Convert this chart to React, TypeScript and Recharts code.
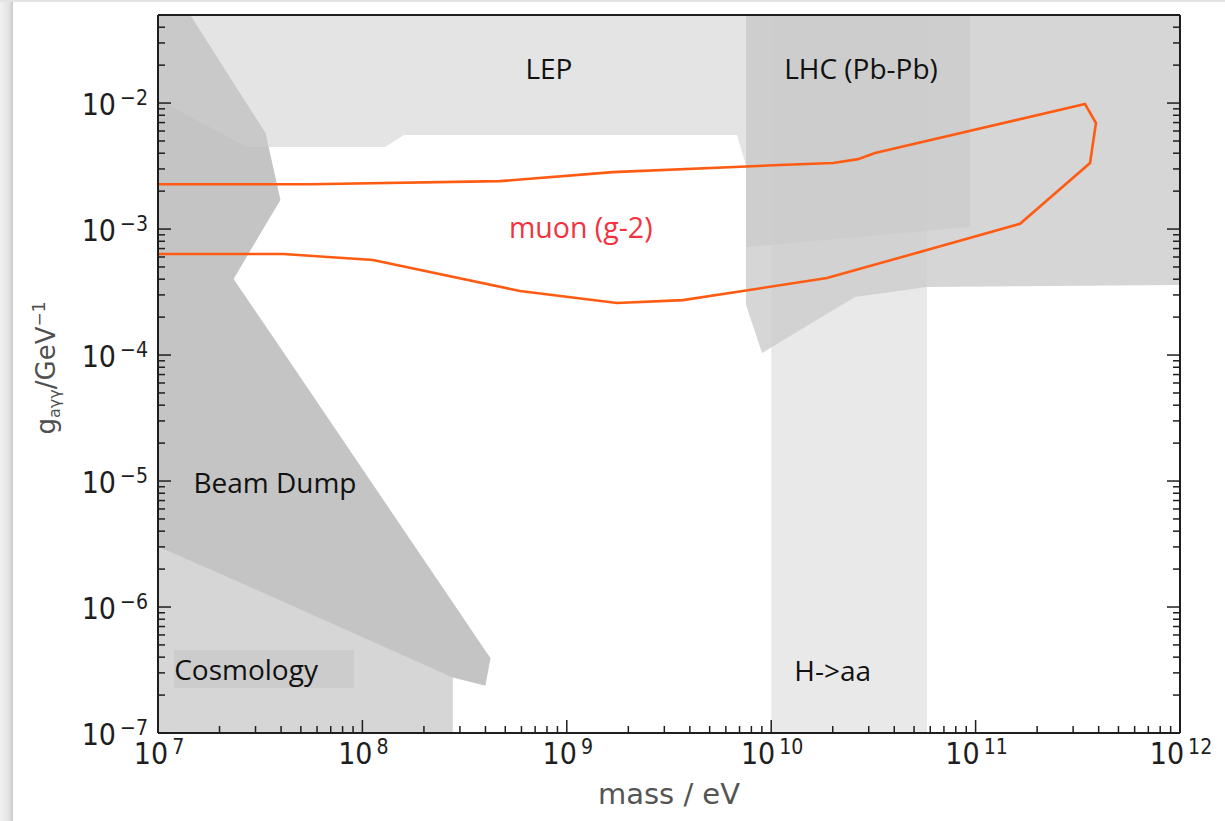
import React from "react";
import {
  ComposedChart,
  Area,
  Line,
  XAxis,
  YAxis,
  ReferenceDot,
  ReferenceArea,
} from "recharts";

/* ------------------------------------------------------------------ */
/*  Data (mass in eV, coupling in GeV^-1)                              */
/* ------------------------------------------------------------------ */

const MASS_DOMAIN = [1e7, 1e12];
const G_DOMAIN = [1e-7, 0.05];

const massDecades = [7, 8, 9, 10, 11, 12];
const gDecades = [-7, -6, -5, -4, -3, -2];
const minorSteps = [2, 3, 4, 5, 6, 7, 8, 9];

// Cosmology
const cosmologyMass = [1e7, 3.95e7, 2.77e8];
const cosmologyLow = [1e-7, 1e-7, 1e-7];
const cosmologyHigh = [3.05e-6, 1.14e-6, 2.78e-7];

// Beam dump, upper lobe
const beamUpperMass = [1e7, 1.43e7, 2.33e7, 2.33e7, 3.34e7, 3.95e7];
const beamUpperLow = [3.05e-6, 2.36e-6, 1.67e-6, 4.01e-4, 1.08e-3, 1.7e-3];
const beamUpperHigh = [0.05, 0.05, 1.44e-2, 1.44e-2, 5.78e-3, 1.7e-3];

// Beam dump, lower tail
const beamLowerMass = [2.2e7, 2.33e7, 3.95e7, 2.77e8, 3.98e8, 4.21e8];
const beamLowerLow = [1.73e-6, 1.67e-6, 1.14e-6, 2.78e-7, 2.4e-7, 3.94e-7];
const beamLowerHigh = [4.56e-4, 4.01e-4, 1.14e-4, 1.07e-6, 4.48e-7, 3.94e-7];

// LEP
const lepMass = [1e7, 2.72e7, 1.29e8, 1.6e8, 6.8e9, 7.53e9];
const lepLow = [1.06e-2, 4.48e-3, 4.48e-3, 5.57e-3, 5.57e-3, 3.22e-3];
const lepHigh = [0.05, 0.05, 0.05, 0.05, 0.05, 0.05];

// Collider (wide band on the right)
const colliderMass = [7.53e9, 9.02e9, 2.57e10, 5.78e10, 1e12];
const colliderLow = [2.49e-4, 1.04e-4, 2.89e-4, 3.47e-4, 3.59e-4];
const colliderHigh = [0.05, 0.05, 0.05, 0.05, 0.05];

// LHC (Pb-Pb)
const lhcMass = [7.53e9, 9.39e10];
const lhcLow = [7.19e-4, 1.04e-3];
const lhcHigh = [0.05, 0.05];

// H->aa
const haaMass = [1e10, 5.78e10];
const haaLow = [1e-7, 1e-7];
const haaHigh = [0.05, 0.05];

// muon (g-2) contour, in drawing order
const muonMass = [
  1e7, 5.54e7, 4.71e8, 1.68e9, 1.1e10, 2.01e10, 2.66e10, 3.22e10, 3.43e11,
  3.88e11, 3.63e11, 1.65e11, 1.875e10, 3.7e9, 1.76e9, 5.9e8, 1.127e8, 4.09e7,
  1e7,
];
const muonG = [
  2.27e-3, 2.27e-3, 2.4e-3, 2.83e-3, 3.22e-3, 3.34e-3, 3.59e-3, 4.01e-3,
  9.82e-3, 6.94e-3, 3.34e-3, 1.1e-3, 4.08e-4, 2.73e-4, 2.59e-4, 3.22e-4,
  5.68e-4, 6.33e-4, 6.33e-4,
];

/* ------------------------------------------------------------------ */
/*  Helpers                                                            */
/* ------------------------------------------------------------------ */

const band = (mass: number[], low: number[], high: number[]) =>
  mass.map((m, i) => ({ m, g: [low[i], high[i]] }));

const decadeTicks = (decades: number[], last: number[]) => {
  const out: number[] = [];
  decades.forEach((d, i) => {
    out.push(Math.pow(10, d));
    const steps = i === decades.length - 1 ? last : minorSteps;
    steps.forEach((s) => out.push(s * Math.pow(10, d)));
  });
  return out;
};

const massTicks = decadeTicks(massDecades, []);
const gTicks = decadeTicks(gDecades, [2, 3, 4, 5]);

const muonData = muonMass.map((m, i) => ({ m, g: muonG[i] }));

const isMajor = (v: number) => {
  const l = Math.log10(v);
  return Math.abs(l - Math.round(l)) < 1e-6;
};

const TICK_FONT = "'DejaVu Sans', sans-serif";
const NOTE_FONT = "'Open Sans', sans-serif";
const INK = "#1e1e1e";
const MAJOR = 13;
const MINOR = 7;
const STRETCH = 1.1; // the source picture is a little taller than wide

function PowLabel({ x, y, v, anchor }: { x: number; y: number; v: number; anchor: string }) {
  const e = Math.round(Math.log10(v));
  return (
    <g transform={`translate(${x},${y}) scale(1,${STRETCH})`}>
      <text x={0} y={0} textAnchor={anchor} fontFamily={TICK_FONT} fontSize={27} fill={INK}>
        <tspan>10</tspan>
        <tspan dx={4} dy={-9} fontSize={19}>
          {e < 0 ? `\u2212${-e}` : `${e}`}
        </tspan>
      </text>
    </g>
  );
}

function BottomTick({ x, y, payload }: any) {
  const major = isMajor(payload.value);
  return (
    <g>
      <line x1={x} x2={x} y1={y} y2={y - (major ? MAJOR : MINOR)} stroke={INK} strokeWidth={1.5} />
      {major && <PowLabel x={x + 1} y={y + 31} v={payload.value} anchor="middle" />}
    </g>
  );
}

function TopTick({ x, y, payload }: any) {
  const major = isMajor(payload.value);
  return <line x1={x} x2={x} y1={y} y2={y + (major ? MAJOR : MINOR)} stroke={INK} strokeWidth={1.5} />;
}

function LeftTick({ x, y, payload }: any) {
  const major = isMajor(payload.value);
  return (
    <g>
      <line x1={x} x2={x + (major ? MAJOR : MINOR)} y1={y} y2={y} stroke={INK} strokeWidth={1.5} />
      {major && <PowLabel x={x - 10} y={y + 12} v={payload.value} anchor="end" />}
    </g>
  );
}

function RightTick({ x, y, payload }: any) {
  const major = isMajor(payload.value);
  return <line x1={x} x2={x - (major ? MAJOR : MINOR)} y1={y} y2={y} stroke={INK} strokeWidth={1.5} />;
}

function Note({ viewBox, text, color = "#111", anchor = "middle", size = 28 }: any) {
  const x = anchor === "start" ? viewBox.x : viewBox.x + viewBox.width / 2;
  const y = viewBox.y + viewBox.height / 2;
  return (
    <text x={x} y={y} textAnchor={anchor} dominantBaseline="central" fontFamily={NOTE_FONT} fontSize={size} fill={color}>
      {text}
    </text>
  );
}

function CosmologyNote({ viewBox }: any) {
  return (
    <text
      x={viewBox.x}
      y={viewBox.y + viewBox.height / 2}
      dominantBaseline="central"
      fontFamily={NOTE_FONT}
      fontSize={28}
      fill="#111"
    >
      Cosmology
    </text>
  );
}

function XTitle({ viewBox }: any) {
  return (
    <text
      x={viewBox.x + viewBox.width / 2}
      y={viewBox.y + 71}
      textAnchor="middle"
      fontFamily={TICK_FONT}
      fontSize={29}
      fill="#555"
    >
      mass / eV
    </text>
  );
}

function YTitle({ viewBox }: any) {
  const cx = 55;
  const cy = viewBox.y + viewBox.height / 2 - 6;
  return (
    <text
      x={cx}
      y={cy}
      transform={`rotate(-90, ${cx}, ${cy})`}
      textAnchor="middle"
      fontFamily={TICK_FONT}
      fontSize={26}
      fill="#505050"
    >
      <tspan>g</tspan>
      <tspan dy={5} fontSize={16}>aγγ</tspan>
      <tspan dy={-5}>/GeV</tspan>
      <tspan dy={-10} fontSize={17}>{"\u22121"}</tspan>
    </text>
  );
}

/* ------------------------------------------------------------------ */
/*  Chart                                                              */
/* ------------------------------------------------------------------ */

const regionProps = {
  type: "linear" as const,
  dataKey: "g",
  isAnimationActive: false,
  dot: false,
  activeDot: false,
};

export default function App() {
  return (
    <div
      style={{
        position: "absolute",
        left: 0,
        top: 0,
        width: 1225,
        height: 821,
        background: "#fff",
        overflow: "hidden",
      }}
    >
      <div
        style={{
          position: "absolute",
          left: 0,
          top: 0,
          width: 13,
          height: 821,
          background: "linear-gradient(to right, #f2f2f2, #e2e2e2 70%, #c9c9c9)",
        }}
      />
      <div
        style={{
          position: "absolute",
          left: 0,
          top: 0,
          width: 1225,
          height: 2,
          background: "#e3e3e3",
        }}
      />
      <div style={{ position: "absolute", left: 0, top: 0 }}>
        <ComposedChart width={1225} height={821} margin={{ top: 0, right: 0, bottom: 0, left: 0 }}>
          <XAxis
            dataKey="m"
            type="number"
            scale="log"
            domain={MASS_DOMAIN}
            allowDataOverflow
            ticks={massTicks}
            interval={0}
            tickSize={0}
            tickMargin={0}
            height={88}
            axisLine={{ stroke: INK, strokeWidth: 2 }}
            tickLine={false}
            tick={<BottomTick />}
            label={<XTitle />}
          />
          <XAxis
            xAxisId="top"
            orientation="top"
            type="number"
            scale="log"
            domain={MASS_DOMAIN}
            allowDataOverflow
            ticks={massTicks}
            interval={0}
            tickSize={0}
            tickMargin={0}
            height={15}
            axisLine={{ stroke: INK, strokeWidth: 2 }}
            tickLine={false}
            tick={<TopTick />}
          />
          <YAxis
            type="number"
            scale="log"
            domain={G_DOMAIN}
            allowDataOverflow
            ticks={gTicks}
            interval={0}
            tickSize={0}
            tickMargin={0}
            width={158}
            axisLine={{ stroke: INK, strokeWidth: 2 }}
            tickLine={false}
            tick={<LeftTick />}
            label={<YTitle />}
          />
          <YAxis
            yAxisId="right"
            orientation="right"
            type="number"
            scale="log"
            domain={G_DOMAIN}
            allowDataOverflow
            ticks={gTicks}
            interval={0}
            tickSize={0}
            tickMargin={0}
            width={45}
            axisLine={{ stroke: INK, strokeWidth: 2 }}
            tickLine={false}
            tick={<RightTick />}
          />

          <Area {...regionProps} data={band(cosmologyMass, cosmologyLow, cosmologyHigh)} fill="#d6d6d6" fillOpacity={1} stroke="none" />
          <Area {...regionProps} data={band(beamUpperMass, beamUpperLow, beamUpperHigh)} fill="#c4c4c4" fillOpacity={1} stroke="#c4c4c4" strokeWidth={1} />
          <Area {...regionProps} data={band(beamLowerMass, beamLowerLow, beamLowerHigh)} fill="#c4c4c4" fillOpacity={1} stroke="#c4c4c4" strokeWidth={1} />
          <Area {...regionProps} data={band(lepMass, lepLow, lepHigh)} fill="#cdcdcd" fillOpacity={0.54} stroke="none" />
          <Area {...regionProps} data={band(colliderMass, colliderLow, colliderHigh)} fill="#d6d6d6" fillOpacity={1} stroke="none" />
          <Area {...regionProps} data={band(lhcMass, lhcLow, lhcHigh)} fill="#bdbdbd" fillOpacity={0.3} stroke="none" />
          <Area {...regionProps} data={band(haaMass, haaLow, haaHigh)} fill="#cdcdcd" fillOpacity={0.44} stroke="none" />

          <ReferenceArea
            x1={1.2e7}
            x2={9.1e7}
            y1={2.28e-7}
            y2={4.56e-7}
            fill="#cccccc"
            fillOpacity={1}
            stroke="none"
            label={<CosmologyNote />}
          />

          <Line
            type="linear"
            data={muonData}
            dataKey="g"
            stroke="#ff5b12"
            strokeWidth={2.6}
            dot={false}
            activeDot={false}
            isAnimationActive={false}
          />

          <ReferenceDot x={8.18e8} y={1.9e-2} r={0} fill="none" stroke="none" label={<Note text="LEP" />} />
          <ReferenceDot x={2.75e10} y={1.9e-2} r={0} fill="none" stroke="none" label={<Note text="LHC (Pb-Pb)" />} />
          <ReferenceDot x={1.17e9} y={1.04e-3} r={0} fill="none" stroke="none" label={<Note text="muon (g-2)" color="#f2333f" size={28.5} />} />
          <ReferenceDot x={1.49e7} y={9.8e-6} r={0} fill="none" stroke="none" label={<Note text="Beam Dump" anchor="start" />} />
          <ReferenceDot x={2.0e10} y={3.16e-7} r={0} fill="none" stroke="none" label={<Note text="H->aa" />} />
        </ComposedChart>
      </div>
    </div>
  );
}
